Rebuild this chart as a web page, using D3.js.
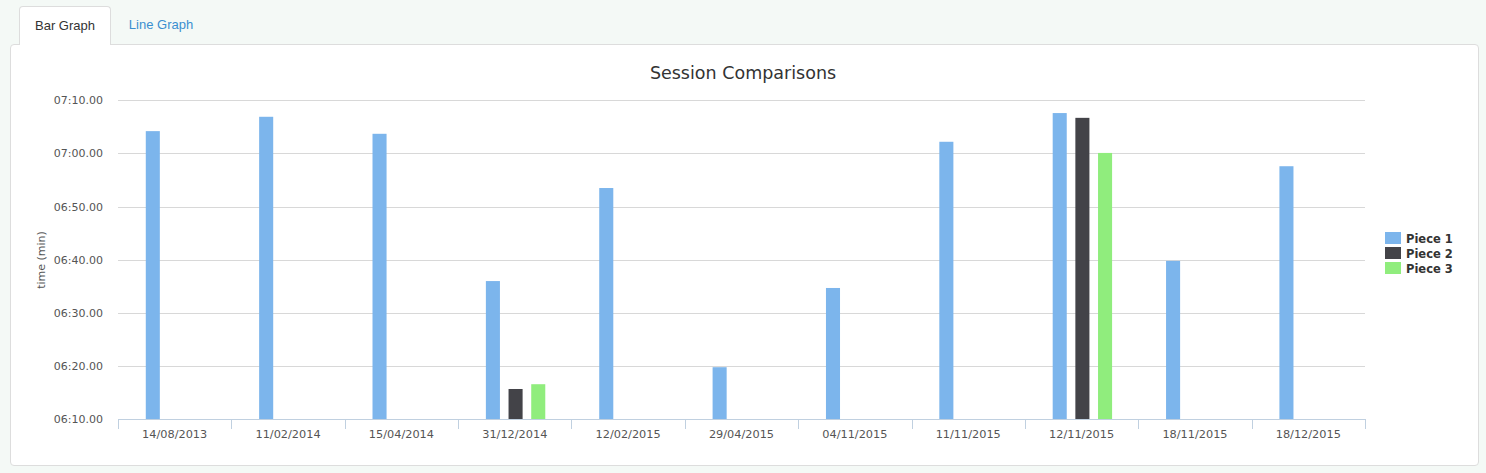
<!DOCTYPE html>
<html>
<head>
<meta charset="utf-8">
<script src="https://cdn.jsdelivr.net/npm/d3@7/dist/d3.min.js"></script>
<style>
body { margin: 0; background: #f4f9f6; width: 1486px; height: 473px; position: relative; overflow: hidden; font-family: "Helvetica Neue", "Liberation Sans", Arial, sans-serif; }
.tab { position: absolute; top: 6px; height: 38px; box-sizing: border-box; font-size: 13px; line-height: 38px; text-align: center; }
.tab.active { left: 19px; width: 92px; background: #fff; border: 1px solid #ddd; border-bottom: none; border-radius: 4px 4px 0 0; color: #333; z-index: 2; height: 39px; }
.tab.other { left: 111px; width: 100px; color: #3a8fd0; }
.panel { position: absolute; left: 10px; top: 44px; width: 1469px; height: 422px; box-sizing: border-box; background: #fff; border: 1px solid #ddd; border-radius: 4px; }
svg { position: absolute; left: 0; top: 0; }
</style>
</head>
<body>
<div class="panel"></div>
<div class="tab active">Bar Graph</div>
<div class="tab other">Line Graph</div>
<script>
var categories = ['14/08/2013','11/02/2014','15/04/2014','31/12/2014','12/02/2015','29/04/2015',
	'04/11/2015','11/11/2015','12/11/2015','18/11/2015','18/12/2015'];
var seriesNames = ['Piece 1','Piece 2','Piece 3'];
var seriesColors = ['#7cb5ec','#434348','#90ed7d'];
// times in seconds
var piece1 = [424.2, 426.9, 423.7, 396.0, 413.5, 379.8, 394.7, 422.2, 427.6, 399.8, 417.6];
var piece2 = [null, null, null, 375.7, null, null, null, null, 426.7, null, null];
var piece3 = [null, null, null, 376.6, null, null, null, null, 420.1, null, null];
var yTicks = [370, 380, 390, 400, 410, 420, 430];

var pad2 = function(n) { return (n < 10 ? '0' : '') + n; }
var formatTime = function(s) {
	return pad2(Math.floor(s / 60)) + ':' + pad2(Math.round(s % 60)) + '.00';
}

var WIDTH = 1486, HEIGHT = 473;
var LEFT = 118, RIGHT = 1365, TOP = 100.3, BOTTOM = 419.3;
var FONT = '"DejaVu Sans", Verdana, sans-serif';

var svg = d3.select('body').append('svg').attr('width', WIDTH).attr('height', HEIGHT);

var x0 = d3.scaleBand().domain(categories).range([LEFT, RIGHT]);
var x1 = d3.scaleBand().domain(seriesNames)
	.range([x0.bandwidth() * 0.2 + 0.8, x0.bandwidth() * 0.8 + 0.8])
	.paddingInner(0.38).paddingOuter(0.19);
var y = d3.scaleLinear().domain([370, 430]).range([BOTTOM, TOP]);

// title
svg.append('text').attr('x', 743).attr('y', 79).attr('text-anchor', 'middle')
	.style('font-family', FONT).style('font-size', '17.5px').attr('fill', '#333')
	.text('Session Comparisons');

// gridlines
svg.append('g').selectAll('line').data(yTicks.slice(1)).enter().append('line')
	.attr('x1', LEFT).attr('x2', RIGHT)
	.attr('y1', function(d) { return Math.round(y(d)) + 0.5; })
	.attr('y2', function(d) { return Math.round(y(d)) + 0.5; })
	.attr('stroke', '#d8d8d8').attr('stroke-width', 1);

// y labels
svg.append('g').selectAll('text').data(yTicks).enter().append('text')
	.attr('x', 103).attr('y', function(d) { return y(d) + 4; })
	.attr('text-anchor', 'end').style('font-family', FONT).style('font-size', '11px')
	.attr('fill', '#555').text(formatTime);

svg.append('text').attr('transform', 'translate(45,260) rotate(-90)').attr('text-anchor', 'middle')
	.style('font-family', FONT).style('font-size', '11px').attr('fill', '#555').text('time (min)');

// bars
var data = [piece1, piece2, piece3];
data.forEach(function(values, i) {
	svg.append('g').selectAll('rect')
		.data(values.map(function(v, j) { return {cat: categories[j], v: v}; })
			.filter(function(d) { return d.v != null; }))
		.enter().append('rect')
		.attr('x', function(d) { return x0(d.cat) + x1(seriesNames[i]); })
		.attr('width', x1.bandwidth())
		.attr('y', function(d) { return y(d.v); })
		.attr('height', function(d) { return BOTTOM - y(d.v); })
		.attr('fill', seriesColors[i]);
});

// x axis
var xAxis = svg.append('g');
xAxis.append('line').attr('x1', LEFT).attr('x2', RIGHT).attr('y1', 419.5).attr('y2', 419.5)
	.attr('stroke', '#c0d0e0');
var bounds = categories.map(function(c) { return x0(c); }).concat([RIGHT]);
xAxis.selectAll('.tk').data(bounds).enter().append('line')
	.attr('x1', function(d) { return Math.round(d) + 0.5; })
	.attr('x2', function(d) { return Math.round(d) + 0.5; })
	.attr('y1', 419).attr('y2', 429).attr('stroke', '#c0d0e0');
xAxis.selectAll('text').data(categories).enter().append('text')
	.attr('x', function(d) { return x0(d) + x0.bandwidth() / 2; }).attr('y', 438)
	.attr('text-anchor', 'middle').style('font-family', FONT).style('font-size', '11.3px')
	.attr('fill', '#555').text(function(d) { return d; });

// legend
var legend = svg.append('g').selectAll('g').data(seriesNames).enter().append('g')
	.attr('transform', function(d, i) { return 'translate(1385,' + (232 + i * 15) + ')'; });
legend.append('rect').attr('width', 16).attr('height', 12)
	.attr('fill', function(d, i) { return seriesColors[i]; });
legend.append('text').attr('x', 21).attr('y', 11)
	.style('font-family', FONT).style('font-size', '11.5px').style('font-weight', 'bold')
	.attr('fill', '#333').text(function(d) { return d; });
</script>
</body>
</html>
